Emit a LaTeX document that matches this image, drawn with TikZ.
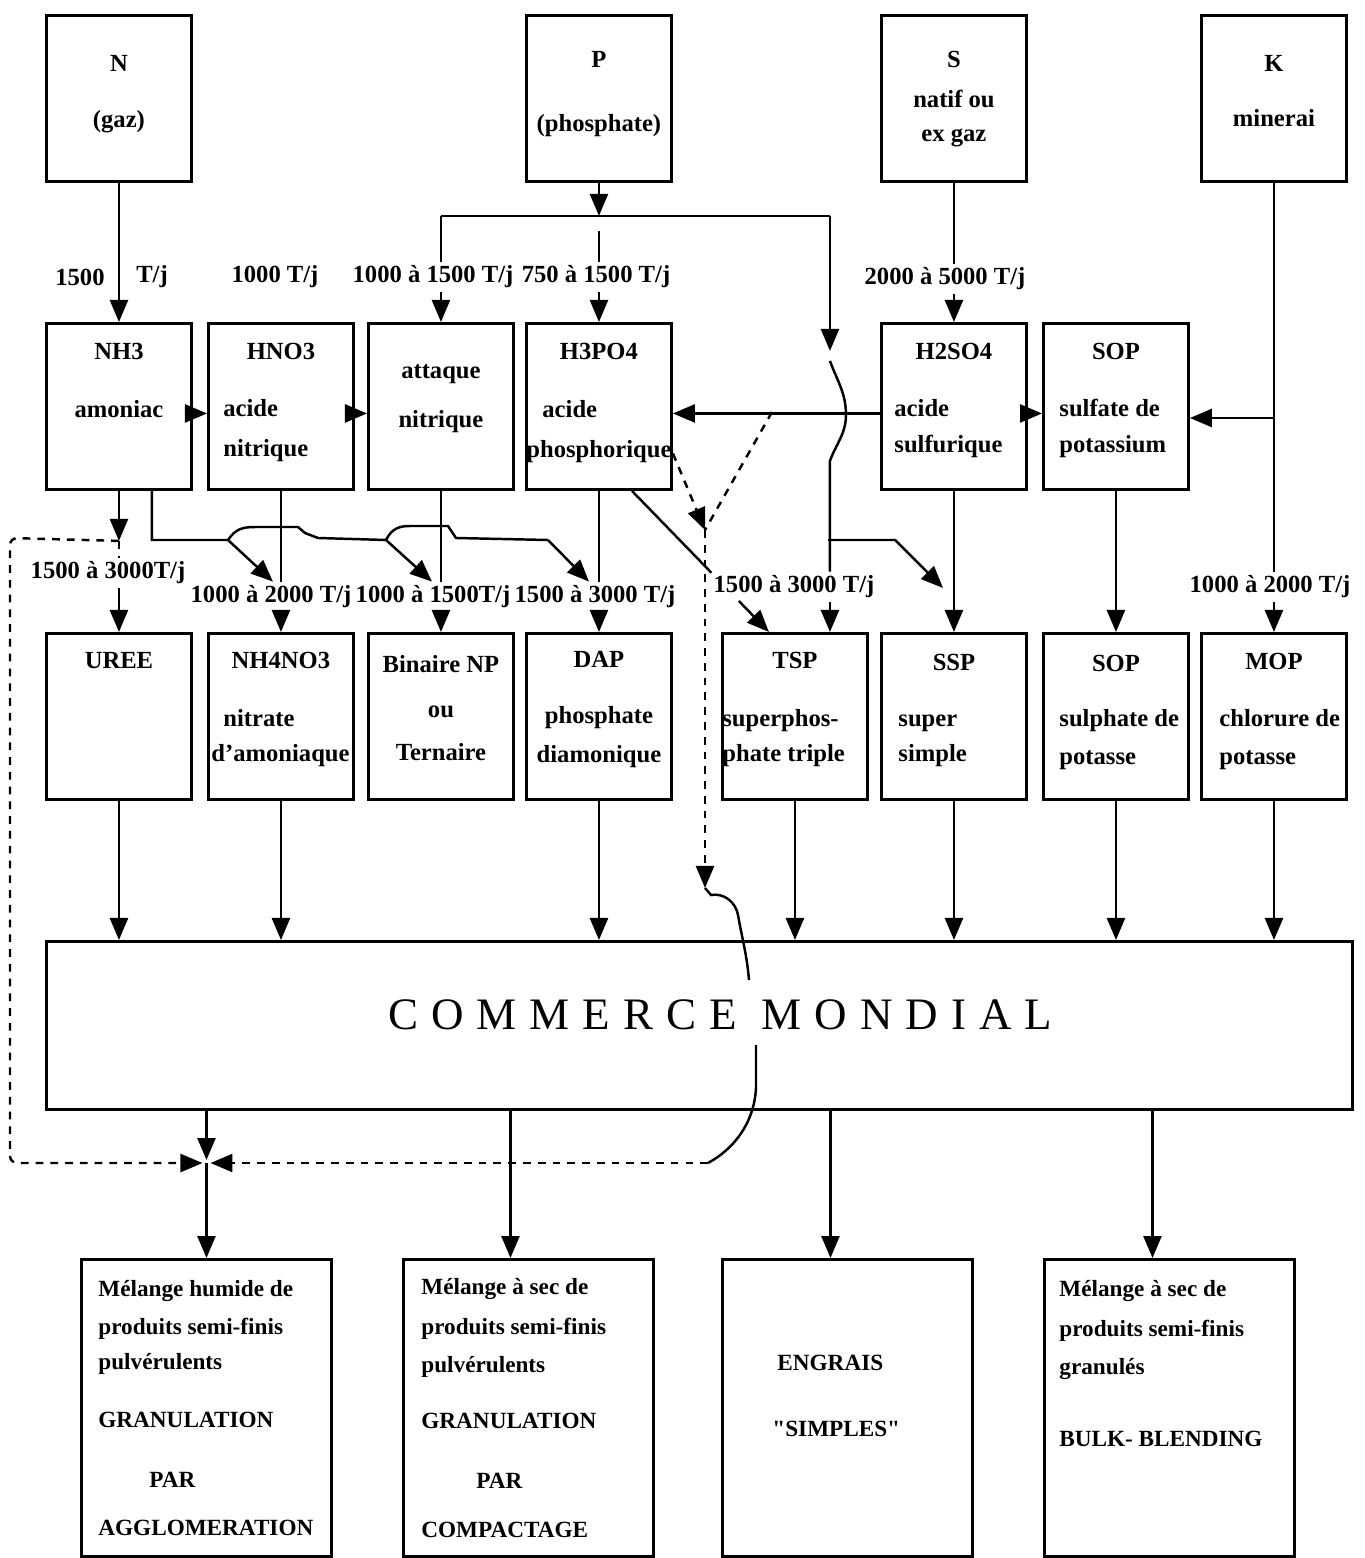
\documentclass[tikz,border=0pt]{standalone}
\usepackage{fontspec}
\setmainfont{Liberation Serif}
\usetikzlibrary{positioning,arrows.meta,calc}

\newcommand{\cl}[1]{\makebox[\linewidth][c]{#1}}
\newcommand{\ind}[1]{\hspace*{#1}}
\newcommand{\rb}[2]{\parbox[t][1.66cm][t]{1.45cm}{\vspace*{#1}\raggedright #2}}
\newcommand{\bb}[2]{\parbox[t][2.97cm][t]{2.5cm}{\vspace*{#1}\raggedright #2}}

\begin{document}
\begin{tikzpicture}[x=0.01cm, y=-0.01cm,
    every node/.style={font=\fontsize{7pt}{8.5pt}\selectfont\bfseries},
    unit/.style={draw, line width=0.8pt, inner sep=0pt, anchor=north west},
    blend/.style={unit, font=\fontsize{6.6pt}{8pt}\selectfont\bfseries},
    market/.style={draw, line width=0.8pt, inner sep=0pt, anchor=north west,
                   minimum width=13.05cm, minimum height=1.68cm,
                   font=\fontsize{12.8pt}{15pt}\selectfont\addfontfeature{LetterSpace=29}},
    rate/.style={inner sep=1pt},
    link/.style={line width=0.7pt},
    flow/.style={link, -{Triangle[length=2.2mm, width=1.8mm]}},
    dashline/.style={line width=0.7pt, dash pattern=on 2.2pt off 2pt},
  ]
    \useasboundingbox (0,0) rectangle (1364,1558);

    % raw materials
    \node[unit] (nsrc) at (45,14)   {\rb{11.4pt}{\cl{N}\\[7.4pt]\cl{(gaz)}}};
    \node[unit] (psrc) at (525,14)  {\rb{10.2pt}{\cl{P}\\[9.7pt]\cl{(phosphate)}}};
    \node[unit] (ssrc) at (880,14)  {\rb{10.2pt}{\cl{S}\\[2.9pt]\cl{natif ou}\\[1.2pt]\cl{ex gaz}}};
    \node[unit] (ksrc) at (1200,14) {\rb{11.4pt}{\cl{K}\\[7.1pt]\cl{minerai}}};

    % intermediates
    \node[unit] (nh3)   at (45,322)   {\rb{5.7pt}{\cl{NH3}\\[8pt]\cl{amoniac}}};
    \node[unit] (hno3)  at (207,322)  {\rb{5.7pt}{\cl{HNO3}\\[7.7pt]\ind{0.15cm}acide\\[2.9pt]\ind{0.15cm}nitrique}};
    \node[unit] (att)   at (367,322)  {\rb{11.7pt}{\cl{attaque}\\[5.4pt]\cl{nitrique}}};
    \node[unit] (h3po4) at (525,322)  {\rb{5.7pt}{\cl{H3PO4}\\[8pt]\ind{0.16cm}acide\\[2.9pt]phosphorique}};
    \node[unit] (h2so4) at (880,322)  {\rb{5.7pt}{\cl{H2SO4}\\[7.7pt]\ind{0.13cm}acide\\[1.7pt]\ind{0.13cm}sulfurique}};
    \node[unit] (sop)   at (1042,322) {\rb{5.7pt}{\cl{SOP}\\[7.7pt]\ind{0.16cm}sulfate de\\[1.7pt]\ind{0.16cm}potassium}};

    % products
    \node[unit] (uree) at (45,632)   {\rb{5.4pt}{\cl{UREE}}};
    \node[unit] (nh4)  at (207,632)  {\rb{5.4pt}{\cl{NH4NO3}\\[8pt]\ind{0.15cm}nitrate\\[1.5pt]\ind{0.03cm}d'amoniaque}};
    \node[unit] (bin)  at (367,632)  {\rb{6.2pt}{\cl{Binaire NP}\\[4.3pt]\cl{ou}\\[3.7pt]\cl{Ternaire}}};
    \node[unit] (dap)  at (525,632)  {\rb{5pt}{\cl{DAP}\\[7.4pt]\cl{phosphate}\\[2.6pt]\cl{diamonique}}};
    \node[unit] (tsp)  at (721,632)  {\rb{5.4pt}{\cl{TSP}\\[8pt]superphos-\\[1.5pt]phate triple}};
    \node[unit] (ssp)  at (880,632)  {\rb{5.9pt}{\cl{SSP}\\[7.5pt]\ind{0.17cm}super\\[1.5pt]\ind{0.17cm}simple}};
    \node[unit] (sop2) at (1042,632) {\rb{6.2pt}{\cl{SOP}\\[7.1pt]\ind{0.16cm}sulphate de\\[2.3pt]\ind{0.16cm}potasse}};
    \node[unit] (mop)  at (1200,632) {\rb{5.7pt}{\cl{MOP}\\[7.7pt]\ind{0.18cm}chlorure de\\[2.3pt]\ind{0.18cm}potasse}};

    \node[market] (cm) at (45,940) {\raisebox{0.22cm}{\hspace*{0.42cm}COMMERCE MONDIAL}};

    % finished fertilisers
    \node[blend] (b1) at (80,1258)   {\bb{6pt}{\ind{0.17cm}Mélange humide de\\[2.8pt]\ind{0.17cm}produits semi-finis\\[2pt]\ind{0.17cm}pulvérulents\\[8.5pt]\ind{0.17cm}GRANULATION\\[9.1pt]\ind{0.68cm}PAR\\[5.4pt]\ind{0.17cm}AGGLOMERATION}};
    \node[blend] (b2) at (402,1258)  {\bb{5.5pt}{\ind{0.18cm}Mélange à sec de\\[3.4pt]\ind{0.18cm}produits semi-finis\\[2.8pt]\ind{0.18cm}pulvérulents\\[7.7pt]\ind{0.18cm}GRANULATION\\[9.1pt]\ind{0.73cm}PAR\\[5.9pt]\ind{0.18cm}COMPACTAGE}};
    \node[blend] (b3) at (721,1258)  {\bb{27.3pt}{\ind{0.55cm}ENGRAIS\\[10.8pt]\ind{0.5cm}\textquotedbl SIMPLES\textquotedbl}};
    \node[blend] (b4) at (1043,1258) {\bb{6pt}{\ind{0.15cm}Mélange à sec de\\[3.4pt]\ind{0.15cm}produits semi-finis\\[2.8pt]\ind{0.15cm}granulés\\[12.5pt]\ind{0.15cm}BULK- BLENDING}};

    % capacities
    \node[rate] (lNa) at (80,277)   {1500};
    \node[rate] (lNb) at (152,277)  {T/j};
    \node[rate] (lH)  at (275,277)  {1000 T/j};
    \node[rate] (lP1) at (433,277)  {1000 à 1500 T/j};
    \node[rate] (lP2) at (596,277)  {750 à 1500 T/j};
    \node[rate] (lS)  at (945,279)  {2000 à 5000 T/j};
    \node[rate] (lN)  at (108,573)  {1500 à 3000T/j};
    \node[rate] (lA)  at (271,597)  {1000 à 2000 T/j};
    \node[rate] (lB)  at (433,597)  {1000 à 1500T/j};
    \node[rate] (lC)  at (595,597)  {1500 à 3000 T/j};
    \node[rate] (lT)  at (794,587)  {1500 à 3000 T/j};
    \node[rate] (lM)  at (1270,587) {1000 à 2000 T/j};

    % junctions
    \coordinate (jp) at ($(psrc.south)+(0,33)$);
    \coordinate (jt) at ($(jp)+(231,0)$);
    \coordinate (js) at (828,540);
    \coordinate (tss) at (943,588);
    \coordinate (jn) at ($(nh3.south)+(0,50)$);
    \coordinate (ja) at (228,540);
    \coordinate (jb) at (386,540);
    \coordinate (jc) at (548,540);
    \coordinate (jx) at (705,530);
    \coordinate (jy) at (772,412);
    \coordinate (jz) at (705,888);
    \coordinate (jw) at (749,980);
    \coordinate (jv) at (756,1045);
    \coordinate (jr) at (708,1163);
    \coordinate (bw) at (b1.north |- 0,1163);

    % N
    \draw[flow] (nsrc.south) -- (nh3.north);
    \draw[flow] ([yshift=-0.7mm]nh3.east) -- ([yshift=-0.7mm]hno3.west);
    \draw[flow] ([yshift=-0.7mm]hno3.east) -- ([yshift=-0.7mm]att.west);

    % P
    \draw[flow] (psrc.south) -- (jp);
    \draw[link] (att.north |- jp) -- (jt);
    \draw[link] (att.north |- jp) -- (att.north |- lP1.north);
    \draw[flow] (att.north |- lP1.south) -- (att.north);
    \draw[link] ($(jp)+(0,15)$) -- (h3po4.north |- lP2.north);
    \draw[flow] (h3po4.north |- lP2.south) -- (h3po4.north);
    \draw[flow] (jt) -- ++(0,135);
    \draw[link] ($(jt)+(0,145)$) to[out=-70,in=90] ($(jt)+(16,199)$)
                to[out=-90,in=70] ($(jt)+(0,245)$) -- (jt |- lT.north);
    \draw[flow] (jt |- lT.south) -- (jt |- tsp.north);
    \draw[flow] (js) -- ++(67,0) -- (tss);

    % S
    \draw[link] (ssrc.south) -- (ssrc.south |- lS.north);
    \draw[flow] (ssrc.south |- lS.south) -- (h2so4.north);
    \draw[flow] ([yshift=-0.7mm]h2so4.west) -- ([yshift=-0.7mm]h3po4.east);
    \draw[flow] ([yshift=-0.7mm]h2so4.east) -- ([yshift=-0.7mm]sop.west);
    \draw[flow] (h2so4.south) -- (ssp.north);

    % K
    \draw[link] (ksrc.south) -- (ksrc.south |- lM.north);
    \draw[flow] (ksrc.south |- lM.south) -- (mop.north);
    \draw[flow] (ksrc.south |- 0,418) -- (sop.east |- 0,418);
    \draw[flow] (sop.south) -- (sop2.north);

    % to products
    \draw[flow] (nh3.south) -- (jn);
    \draw[dashline] (jn) -- (nh3.south |- lN.north);
    \draw[flow] (nh3.south |- lN.south) -- (uree.north);
    \draw[link] ([xshift=3.3mm]nh3.south) |- (ja)
        .. controls (236,528) and (244,527) .. (256,527) -- (298,527) -- (305,533) -- (318,538) -- (jb)
        .. controls (392,528) and (400,526) .. (410,526) -- (448,526) -- (456,538) -- (jc);
    \draw[flow] (ja) -- ($(hno3.south |- lA.north)+(-8,0)$);
    \draw[flow] (jb) -- ($(att.south |- lB.north)+(-9,0)$);
    \draw[flow] (jc) -- ($(h3po4.south |- lC.north)+(-10,0)$);
    \draw[link] (hno3.south) -- (hno3.south |- lA.north);
    \draw[flow] (hno3.south |- lA.south) -- (nh4.north);
    \draw[link] (att.south) -- (att.south |- lB.north);
    \draw[flow] (att.south |- lB.south) -- (bin.north);
    \draw[link] (h3po4.south) -- (h3po4.south |- lC.north);
    \draw[flow] (h3po4.south |- lC.south) -- (dap.north);
    \draw[link] ([xshift=3.3mm]h3po4.south) -- ($([xshift=3.3mm]h3po4.south)!0.58!([xshift=-2.6mm]tsp.north)$);
    \draw[flow] ($([xshift=3.3mm]h3po4.south)!0.78!([xshift=-2.6mm]tsp.north)$) -- ([xshift=-2.6mm]tsp.north);

    % by-pass to the blending units
    \draw[flow, dashline] ([yshift=-4.7mm]h3po4.east) -- (jx);
    \draw[dashline] (jy) -- (jx);
    \draw[flow, dashline] (jx) -- (jz);
    \draw[link] (jz) -- ++(6,7) to[out=10,in=100] (738,915) to[out=-80,in=95] (jw);
    \draw[link] (jv) -- (756,1088) .. controls (754,1125) and (732,1150) .. (jr);
    \draw[flow, dashline] (jr) -- ($(bw)+(4,0)$);
    \draw[flow, dashline, rounded corners=2pt] (jn) -- (10,538) -- (10,1163) -- ($(bw)+(-4,0)$);

    % world trade
    \foreach \p in {uree,nh4,dap,tsp,ssp,sop2,mop}
      \draw[flow] (\p.south) -- (\p.south |- cm.north);
    \draw[flow] (b1.north |- cm.south) -- ($(bw)+(0,-3)$);
    \draw[flow] (bw) -- (b1.north);
    \draw[flow] ([xshift=-1.8mm]b2.north |- cm.south) -- ([xshift=-1.8mm]b2.north);
    \draw[flow] ([xshift=-1.7mm]b3.north |- cm.south) -- ([xshift=-1.7mm]b3.north);
    \draw[flow] ([xshift=-1.7mm]b4.north |- cm.south) -- ([xshift=-1.7mm]b4.north);
\end{tikzpicture}
\end{document}
